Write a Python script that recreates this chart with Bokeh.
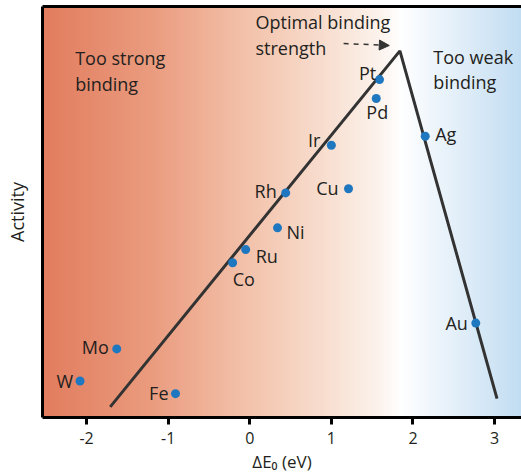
import numpy as np
from bokeh.plotting import figure
from bokeh.models import (Arrow, NormalHead, FixedTicker, LinearAxis,
                          ColumnDataSource, Range1d)
from bokeh.embed import file_html
from bokeh.resources import INLINE
from bokeh.core.properties import value

# ---------------- data ----------------
metals = ["Pt", "Pd", "Ag", "Ir", "Cu", "Rh", "Ni", "Ru", "Co", "Au", "Mo", "W", "Fe"]
delta_e = [1.59, 1.55, 2.15, 1.00, 1.21, 0.44, 0.34, -0.05, -0.21, 2.77, -1.63, -2.08, -0.91]
activity = [8.21, 7.75, 6.83, 6.61, 5.55, 5.45, 4.60, 4.07, 3.75, 2.28, 1.65, 0.87, 0.56]

volcano_x = [-1.71, 1.84, 3.03]
volcano_y = [0.24, 8.91, 0.44]

x_ticks = [-2, -1, 0, 1, 2, 3]
x_tick_labels = ["-2", "-1", "0", "1", "2", "3"]

x_title = "ΔE₀ (eV)"
y_title = "Activity"
strong_text = ["Too strong", "binding"]
weak_text = ["Too weak", "binding"]
optimal_text = ["Optimal binding", "strength"]

# ---------------- styling / layout ----------------
FONT = "Open Sans"
TXT = "#231f20"
X0, X1 = -2.54, 3.33
Y0, Y1 = -0.02, 9.99

# label placement per metal: (align, x_offset px, y_offset px)
label_style = {
    "Pt": ("center", -12, -7), "Pd": ("center", 1, 14), "Ag": ("left", 10, -2),
    "Ir": ("right", -11, -5), "Cu": ("right", -10, -1), "Rh": ("right", -9, -2),
    "Ni": ("left", 9, 4), "Ru": ("left", 10, 6), "Co": ("left", 0, 16),
    "Au": ("right", -8, 0), "Mo": ("right", -8, -2), "W": ("right", -7, 0),
    "Fe": ("right", -7, -1),
}

p = figure(width=521, height=475, output_backend="svg", toolbar_location=None,
           x_range=Range1d(X0, X1), y_range=Range1d(Y0, Y1),
           min_border_left=42, min_border_right=0, min_border_top=0,
           min_border_bottom=57)
p.outline_line_color = None
p.grid.visible = False
p.background_fill_color = "white"
p.border_fill_color = "white"

# background gradient
stops_x = [-2.54, -1.22, 0.0, 0.99, 1.6, 1.85, 2.58, 3.33]
stops_c = [(226, 124, 94), (234, 155, 126), (243, 195, 172), (248, 224, 210),
           (252, 243, 237), (255, 255, 255), (225, 238, 248), (194, 221, 242)]
W = 600
xs = np.linspace(X0, X1, W)
img = np.zeros((2, W), dtype=np.uint32)
view = img.view(dtype=np.uint8).reshape((2, W, 4))
for ch in range(3):
    vals = np.interp(xs, stops_x, [c[ch] for c in stops_c])
    view[:, :, ch] = np.round(vals).astype(np.uint8)
view[:, :, 3] = 255
p.image_rgba(image=[img], x=X0, y=Y0, dw=X1 - X0, dh=Y1 - Y0)

# volcano line
p.line(volcano_x, volcano_y, line_color="#333333", line_width=3)

# points
src = ColumnDataSource(dict(x=delta_e, y=activity, name=metals,
                            align=[label_style[m][0] for m in metals],
                            xo=[label_style[m][1] for m in metals],
                            yo=[label_style[m][2] for m in metals]))
p.scatter("x", "y", source=src, size=9, fill_color="#1f77c0", line_color=None)
p.text("x", "y", text="name", source=src, text_align="align", text_baseline="middle",
       x_offset="xo", y_offset="yo", text_font=value(FONT), text_font_size="18px",
       text_color=TXT)

# region annotations
p.text([-2.14, -2.14], [8.74, 8.11], text=strong_text, text_font=value(FONT),
       text_font_size="18px", text_color=TXT, text_baseline="middle")
p.text([2.25, 2.25], [8.77, 8.16], text=weak_text, text_font=value(FONT),
       text_font_size="18px", text_color=TXT, text_baseline="middle")
p.text([0.07, 0.07], [9.61, 8.98], text=optimal_text, text_font=value(FONT),
       text_font_size="18px", text_color=TXT, text_baseline="middle")

p.add_layout(Arrow(x_start=1.15, y_start=9.09, x_end=1.71, y_end=9.04,
                   line_color="#333333", line_width=1.5, line_dash="5 5",
                   end=NormalHead(size=10, fill_color="#333333", line_color="#333333")))

# axes
p.xaxis.ticker = FixedTicker(ticks=x_ticks)
p.xaxis.major_label_overrides = {t: l for t, l in zip(x_ticks, x_tick_labels)}
p.xaxis.axis_line_width = 3
p.xaxis.axis_line_color = "black"
p.xaxis.major_tick_line_width = 3
p.xaxis.major_tick_line_color = "black"
p.xaxis.major_tick_in = 0
p.xaxis.major_tick_out = 7
p.xaxis.minor_tick_line_color = None
p.xaxis.major_label_text_font = FONT
p.xaxis.major_label_text_font_size = "16px"
p.xaxis.major_label_text_color = TXT
p.xaxis.major_label_standoff = 7
p.xaxis.axis_label = x_title
p.xaxis.axis_label_text_font = FONT
p.xaxis.axis_label_text_font_size = "17px"
p.xaxis.axis_label_text_font_style = "normal"
p.xaxis.axis_label_text_color = TXT
p.xaxis.axis_label_standoff = 3

p.yaxis.axis_line_width = 3
p.yaxis.axis_line_color = "black"
p.yaxis.major_tick_line_color = None
p.yaxis.minor_tick_line_color = None
p.yaxis.major_label_text_color = None
p.yaxis.major_label_text_font_size = "0px"
p.yaxis.axis_label = y_title
p.yaxis.axis_label_text_font = FONT
p.yaxis.axis_label_text_font_size = "18px"
p.yaxis.axis_label_text_font_style = "normal"
p.yaxis.axis_label_text_color = TXT
p.yaxis.axis_label_standoff = 8

top_axis = LinearAxis(axis_line_width=3, axis_line_color="black",
                      major_tick_line_color=None, minor_tick_line_color=None,
                      major_label_text_font_size="0px", major_label_text_color=None)
p.add_layout(top_axis, "above")

open("out.html", "w").write(file_html(p, INLINE))
